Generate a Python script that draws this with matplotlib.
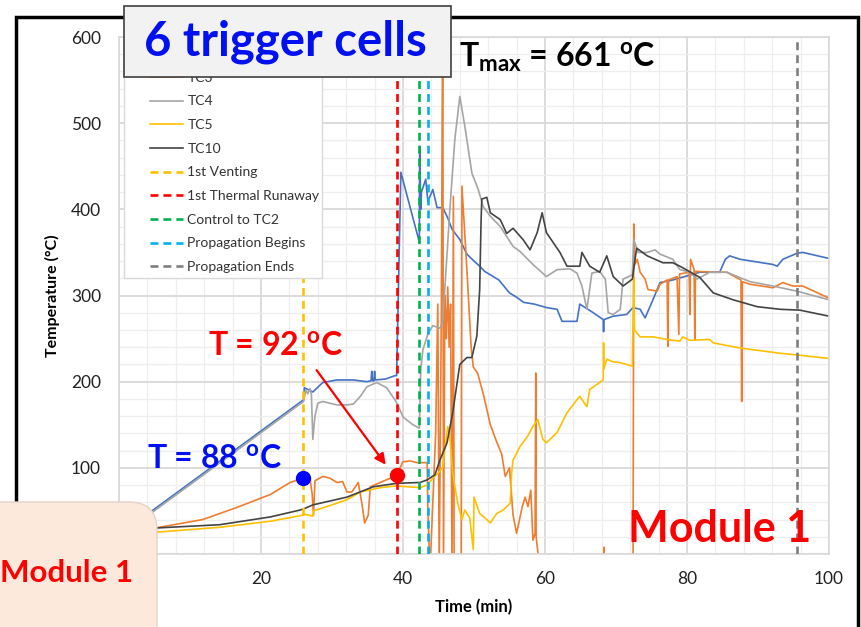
import matplotlib
matplotlib.use('Agg')
import matplotlib.pyplot as plt
from matplotlib.patches import Rectangle, FancyBboxPatch
from matplotlib.transforms import Affine2D
from matplotlib.ticker import MultipleLocator

# ---------------- data ----------------
tc2_t = [0, 26.0, 26.1, 27.3, 28.7, 30.7, 33.0, 34.9, 35.5, 35.6, 35.7, 35.9, 36.0, 36.1, 37.5, 38.9,
         39.1, 39.7, 42.3, 42.35, 42.5, 42.6, 43.2, 43.5, 44.2, 44.8, 45.6, 46.3, 46.9, 48.0, 49.0,
         50.0, 50.8, 51.5, 52.7, 53.5, 55.0, 56.0, 57.0, 58.5, 60.2, 61.7, 62.4, 64.5, 64.9, 66.8,
         68.2, 68.25, 68.3, 69.6, 71.5, 72.4, 73.4, 74.1, 75.2, 76.2, 78.0, 81.8, 84.6, 85.4, 86.0,
         87.5, 92.1, 92.7, 93.5, 95.5, 96.3, 100]
tc2_T = [22, 179, 193, 188, 199, 202, 202, 200, 201, 212, 201, 201, 212, 202, 203, 207,
         207, 443, 362, 473, 400, 420, 435, 409, 423, 402, 402, 390, 377, 365, 348,
         340, 334, 328, 322, 318, 303, 298, 292, 290, 286, 284, 270, 270, 290, 280,
         272, 258, 272, 276, 278, 286, 284, 274, 295, 315, 318, 327, 327, 342, 346,
         342, 336, 334, 342, 349, 350, 343]

tc3_t = [0, 5.0, 11.8, 16.6, 21.3, 24.1, 25.9, 26.9, 27.2, 27.4, 27.6, 28.7, 29.7, 30.7, 31.5, 32.1,
         32.8, 33.7, 34.2, 34.6, 35.1, 35.4, 36.8, 38.2, 39.1, 40.0, 41.0, 42.0, 43.4, 43.5, 43.8,
         44.6, 44.9, 45.1, 45.4, 45.6, 45.7, 45.9, 46.1, 46.3, 46.5, 46.7, 46.9, 47.1, 47.2, 48.2,
         48.3, 49.0, 49.6, 49.9, 50.5, 51.3, 52.3, 53.2, 53.9, 54.4, 55.0, 55.5, 56.0, 56.8, 57.2,
         57.6, 58.0, 58.3, 58.6, 58.7, 58.75, 59.3, 68.2, 68.3, 68.4, 72.4, 72.5, 72.6, 73.0, 73.4,
         74.1, 74.5, 75.8, 76.2, 77.2, 77.3, 77.4, 78.6, 78.85, 78.95, 80.3, 80.4, 80.5, 81.0,
         81.1, 81.2, 83.7, 85.6, 87.6, 87.7, 87.8, 88.9, 92.1, 93.5, 94.9, 96.3, 100]
tc3_T = [22, 30, 40, 54, 69, 83, 88, 88, 70, 45, 85, 90, 88, 83, 84, 72,
         72, 83, 59, 36, 45, 78, 83, 88, 92, 107, 108, 106, 106, 51, -20,
         140, 290, -20, 280, 661, -20, 300, 250, 310, 240, 290, -20, 415, -20, -20,
         427, 330, 240, 217, 210, 186, 150, 130, 116, 90, 100, 45, 24, 55, 66,
         55, 74, 16, 24, 210, 20, -20, -20, 8, -20, -20, 383, 335, 342, 327,
         319, 307, 305, 313, 318, 241, 318, 322, 255, 325, 327, 278, 342, 330,
         249, 328, 327, 327, 318, 177, 316, 313, 309, 315, 311, 311, 297]

tc4_t = [0, 26.0, 26.3, 26.6, 26.9, 27.1, 27.3, 27.6, 28.0, 28.7, 30.7, 32.1, 33.0, 34.0, 34.9, 36.3,
         37.7, 39.1, 40.0, 41.4, 42.3, 42.5, 42.8, 43.5, 44.2, 45.2, 45.6, 46.6, 47.3, 48.0, 48.7,
         49.7, 50.6, 51.3, 52.3, 53.7, 55.5, 56.5, 58.3, 60.2, 61.7, 63.5, 64.5, 65.2, 65.9, 66.6,
         67.7, 68.5, 68.9, 69.6, 70.6, 71.0, 72.3, 72.5, 73.1, 74.4, 75.5, 76.2, 78.0, 79.0, 80.4,
         81.4, 83.2, 85.6, 88.9, 92.1, 95.5, 100]
tc4_T = [20, 177, 190, 186, 192, 185, 133, 160, 175, 177, 173, 173, 174, 183, 194, 199,
         193, 176, 159, 150, 146, 214, 237, 255, 265, 262, 270, 400, 481, 531, 497,
         442, 423, 403, 392, 380, 357, 351, 336, 322, 330, 331, 326, 311, 284, 326,
         328, 319, 280, 278, 284, 319, 324, 365, 350, 350, 353, 348, 342, 330, 327,
         319, 327, 327, 316, 311, 305, 295]

tc5_t = [0, 14.2, 21.3, 25.9, 26.2, 27.3, 27.4, 30.0, 32.1, 34.0, 36.8, 39.1, 42.4, 43.4, 44.2, 45.2,
         45.6, 46.3, 46.6, 47.0, 47.7, 48.3, 48.7, 49.4, 49.9, 50.0, 50.8, 51.8, 52.3, 53.2, 54.1,
         55.1, 55.3, 55.5, 56.5, 57.5, 58.3, 59.0, 59.7, 60.2, 61.7, 63.1, 64.5, 64.9, 65.9, 66.3,
         67.7, 68.2, 68.25, 68.3, 68.7, 69.6, 70.6, 71.5, 72.3, 72.5, 72.6, 73.4, 75.2, 77.2, 79.0,
         79.4, 80.4, 83.2, 83.7, 87.5, 93.1, 95.5, 100]
tc5_T = [22, 31, 38, 45, 46, 44, 50, 57, 63, 72, 77, 79, 77, 80, 88, 96,
         101, 148, 136, 94, 59, 40, 51, 42, 5, 66, 47, 40, 36, 47, 51,
         59, 94, 109, 125, 136, 148, 156, 133, 129, 141, 164, 179, 183, 171, 191,
         199, 202, 245, 215, 226, 223, 222, 220, 218, 320, 260, 252, 252, 249, 247,
         252, 248, 249, 245, 239, 233, 231, 227]

tc10_t = [0, 4.8, 14.2, 21.3, 25.5, 26.2, 27.3, 32.1, 35.8, 39.1, 42.4, 43.4, 44.5, 45.2, 46.2, 47.0,
          48.0, 49.0, 49.7, 50.4, 50.8, 51.0, 51.1, 51.5, 51.8, 52.3, 53.7, 54.6, 55.5, 56.9, 57.9,
          58.9, 59.6, 60.2, 62.1, 63.1, 64.9, 65.2, 66.3, 67.7, 68.7, 69.6, 71.0, 72.3, 72.9, 74.4,
          76.6, 78.0, 79.0, 81.8, 83.7, 86.5, 89.9, 93.1, 95.9, 100]
tc10_T = [22, 30, 34, 43, 51, 53, 57, 66, 78, 82, 83, 86, 92, 109, 129, 164,
          220, 228, 228, 253, 307, 388, 412, 413, 414, 396, 388, 372, 378, 365, 353,
          373, 396, 373, 350, 334, 334, 350, 334, 327, 346, 322, 311, 319, 355, 346,
          338, 338, 334, 321, 303, 295, 287, 284, 283, 276]

series_names = ['TC2', 'TC3', 'TC4', 'TC5', 'TC10']
series_colors = ['#4472C4', '#ED7D31', '#A5A5A5', '#FFC000', '#444444']

event_names = ['1st Venting', '1st Thermal Runaway', 'Control to TC2', 'Propagation Begins', 'Propagation Ends']
event_times = [25.9, 39.1, 42.3, 43.5, 95.5]
event_colors = ['#FFC000', '#FF0000', '#00B050', '#00B0F0', '#7F7F7F']

venting_point = (25.9, 88)
runaway_point = (39.1, 92)

x_ticks = [0, 20, 40, 60, 80, 100]
y_ticks = [0, 100, 200, 300, 400, 500, 600]

# ---------------- figure ----------------
W, H = 862, 627
plt.rcParams['font.family'] = ['Lato', 'DejaVu Sans']
plt.rcParams['mathtext.fontset'] = 'custom'
plt.rcParams['mathtext.rm'] = 'Lato'
plt.rcParams['mathtext.bf'] = 'Lato:bold'
plt.rcParams['mathtext.it'] = 'Lato:italic'

fig = plt.figure(figsize=(W / 100, H / 100), dpi=100)
fig.patch.set_facecolor('white')
ax = fig.add_axes([119 / W, 1 - 554 / H, (829 - 119) / W, (554 - 37) / H])
px = Affine2D().scale(1 / W, 1 / H) + fig.transFigure

series = [(tc2_t, tc2_T), (tc3_t, tc3_T), (tc4_t, tc4_T), (tc5_t, tc5_T), (tc10_t, tc10_T)]
handles = []
for (tt, TT), name, col in zip(series, series_names, series_colors):
    ln, = ax.plot(tt, TT, color=col, lw=1.2, label=name, zorder=2, solid_joinstyle='round')
    handles.append(ln)

for name, tv, col in zip(event_names, event_times, event_colors):
    ln = ax.axvline(tv, color=col, lw=1.9, dashes=(3.0, 1.9), label=name, zorder=3)
    handles.append(ln)

ax.plot([venting_point[0]], [venting_point[1]], 'o', color='#0000FF', ms=10, zorder=6)
ax.plot([runaway_point[0]], [runaway_point[1]], 'o', color='#FF0000', ms=10, zorder=6)

ax.set_xlim(0, 100)
ax.set_ylim(0, 600)
ax.set_xticks(x_ticks)
ax.set_yticks(y_ticks)
ax.xaxis.set_minor_locator(MultipleLocator(4))
ax.yaxis.set_minor_locator(MultipleLocator(20))
ax.grid(which='major', color='#d9d9d9', lw=1.3)
ax.grid(which='minor', color='#eeeeee', lw=0.9)
ax.set_axisbelow(True)
ax.tick_params(which='both', length=0)
ax.tick_params(axis='y', pad=13, labelsize=12.5, labelcolor='#222222')
ax.tick_params(axis='x', pad=12, labelsize=12.5, labelcolor='#222222')
for s in ax.spines.values():
    s.set_color('#d9d9d9')
    s.set_linewidth(1.2)
ax.set_xlabel('Time (min)', fontsize=12, fontweight='bold', labelpad=9)
ax.set_ylabel('Temperature (°C)', fontsize=11.5, fontweight='bold', labelpad=8)

# legend with white frame
ax.add_patch(Rectangle((124, H - 278), 198, 238, transform=px, facecolor='white',
                       edgecolor='#d9d9d9', lw=1.0, zorder=4.5, clip_on=False))
leg = ax.legend(handles=handles, loc='lower left', bbox_to_anchor=(143, H - 280),
                bbox_transform=px, frameon=False, fontsize=10, borderpad=0,
                labelspacing=0.84, handlelength=2.4, handletextpad=0.3)
leg.set_zorder(5)
for t in leg.get_texts():
    t.set_color('#333333')

# annotations
ax.text(4.0, 100, r'T = 88 $\mathbf{^{o}}$C', color='#0010F0', fontsize=23, fontweight='bold',
        ha='left', va='baseline', zorder=7)
ax.text(12.6, 231, r'T = 92 $\mathbf{^{o}}$C', color='#FF0000', fontsize=23, fontweight='bold',
        ha='left', va='baseline', zorder=7)
ax.annotate('', xy=(37.8, 101), xytext=(27.6, 216),
            arrowprops=dict(arrowstyle='-|>', color='#FF0000', lw=1.6, mutation_scale=16), zorder=7)
ax.text(47.9, 565, r'$\mathbf{T_{max}}$ = 661 $\mathbf{^{o}}$C', color='black', fontsize=23,
        fontweight='bold', ha='left', va='baseline', zorder=7)
ax.text(71.7, 14, 'Module 1', color='#FF0000', fontsize=31, fontweight='bold', ha='left',
        va='baseline', zorder=7)

# outer frame
fig.patches.append(Rectangle((16, H - 680), 842, 663, transform=px, fill=False,
                             edgecolor='black', lw=2.5, zorder=1.5))
# 6 trigger cells box
fig.patches.append(Rectangle((124, H - 77), 327, 71, transform=px, facecolor='#F2F2F2',
                             edgecolor='#404040', lw=1.2, zorder=2))
fig.text(144, H - 55, '6 trigger cells', transform=px, color='#0010F0', fontsize=34,
         fontweight='bold', ha='left', va='baseline', zorder=3)
# Module 1 box bottom-left
fig.patches.append(FancyBboxPatch((-30, -30), 187, 155, transform=px,
                                  boxstyle='round,pad=0,rounding_size=28',
                                  facecolor='#FDE9DC', edgecolor='#e3d3c8', lw=1.0, zorder=2))
fig.text(0, H - 582, 'Module 1', transform=px, color='#FF0000', fontsize=22.5,
         fontweight='bold', ha='left', va='baseline', zorder=3)

fig.savefig('out.png', dpi=100, facecolor='white')
